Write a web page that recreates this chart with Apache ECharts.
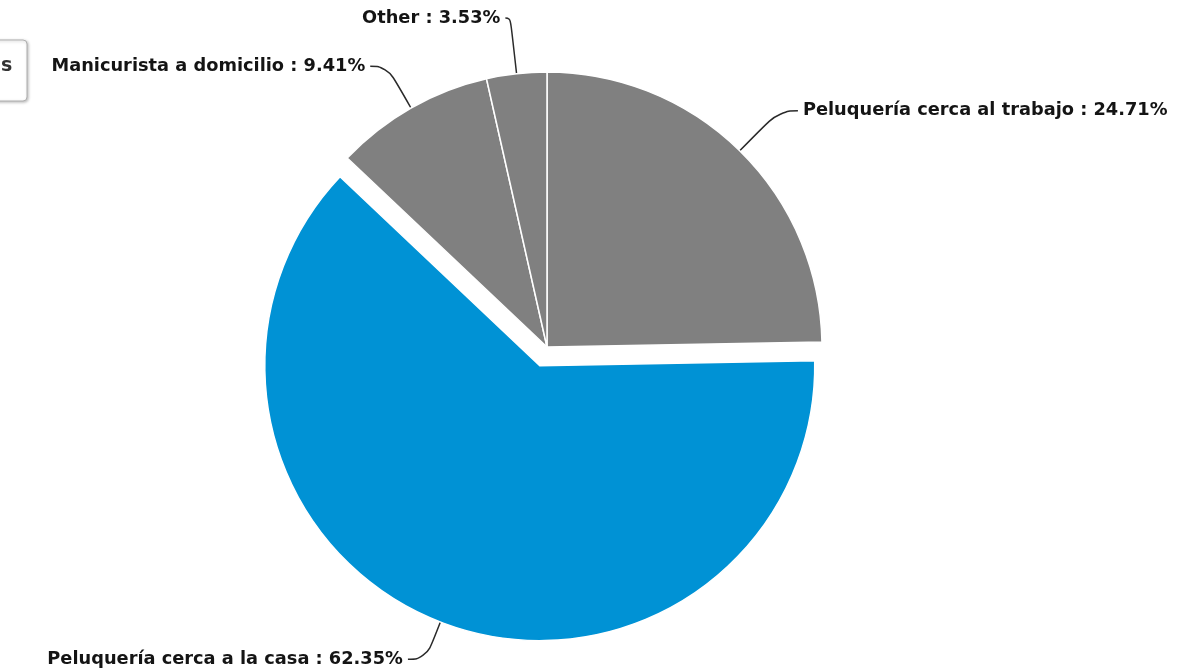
<!DOCTYPE html>
<html>
<head>
<meta charset="utf-8">
<script src="https://cdn.jsdelivr.net/npm/echarts@6/dist/echarts.min.js"></script>
<style>
  html, body { margin: 0; padding: 0; background: #ffffff; }
  #chart { width: 1183px; height: 672px; }
</style>
</head>
<body>
<div id="chart"></div>
<script>
// Survey answers and their shares (%)
const categories = [
  'Peluquería cerca al trabajo',
  'Peluquería cerca a la casa',
  'Manicurista a domicilio',
  'Other'
];
const shares = [24.71, 62.35, 9.41, 3.53];
const sliceColors = ['#808080', '#0092d5', '#808080', '#808080'];
const highlighted = 'Peluquería cerca a la casa';
// guide-line segment lengths per slice: [radial, horizontal]
const guideLengths = [[56, 19], [40, 18], [48, 17], [56, 5]];

const chart = echarts.init(document.getElementById('chart'), null, { renderer: 'canvas' });

const pieData = categories.map((name, i) => ({
  name: name,
  value: shares[i],
  selected: name === highlighted,
  itemStyle: { color: sliceColors[i] },
  labelLine: { length: guideLengths[i][0], length2: guideLengths[i][1] }
}));

chart.setOption({
  animation: false,
  backgroundColor: '#ffffff',
  graphic: [
    {
      type: 'rect',
      shape: { x: -12, y: 40, width: 39, height: 61, r: 4 },
      style: {
        fill: '#ffffff', stroke: '#b0b0b0', lineWidth: 1,
        shadowBlur: 3, shadowColor: 'rgba(0,0,0,0.25)', shadowOffsetX: 1, shadowOffsetY: 1
      }
    },
    {
      type: 'text',
      left: 1, top: 57,
      style: { text: 's', font: 'bold 19px "DejaVu Sans"', fill: '#333333' }
    }
  ],
  series: [{
    type: 'pie',
    center: [547, 347],
    radius: [0, 275],
    startAngle: 90,
    clockwise: true,
    selectedMode: 'single',
    selectedOffset: 20,
    avoidLabelOverlap: false,
    itemStyle: { borderColor: '#ffffff', borderWidth: 1.5 },
    label: {
      show: true,
      position: 'outside',
      formatter: p => p.name + ' : ' + p.value.toFixed(2) + '%',
      fontFamily: 'DejaVu Sans',
      fontWeight: 'bold',
      fontSize: 17.8,
      color: '#141414',
      distanceToLabelLine: 5
    },
    labelLine: {
      show: true,
      smooth: 0.5,
      lineStyle: { color: '#2a2a2a', width: 1.5 }
    },
    emphasis: { disabled: true },
    data: pieData
  }]
});
</script>
</body>
</html>
